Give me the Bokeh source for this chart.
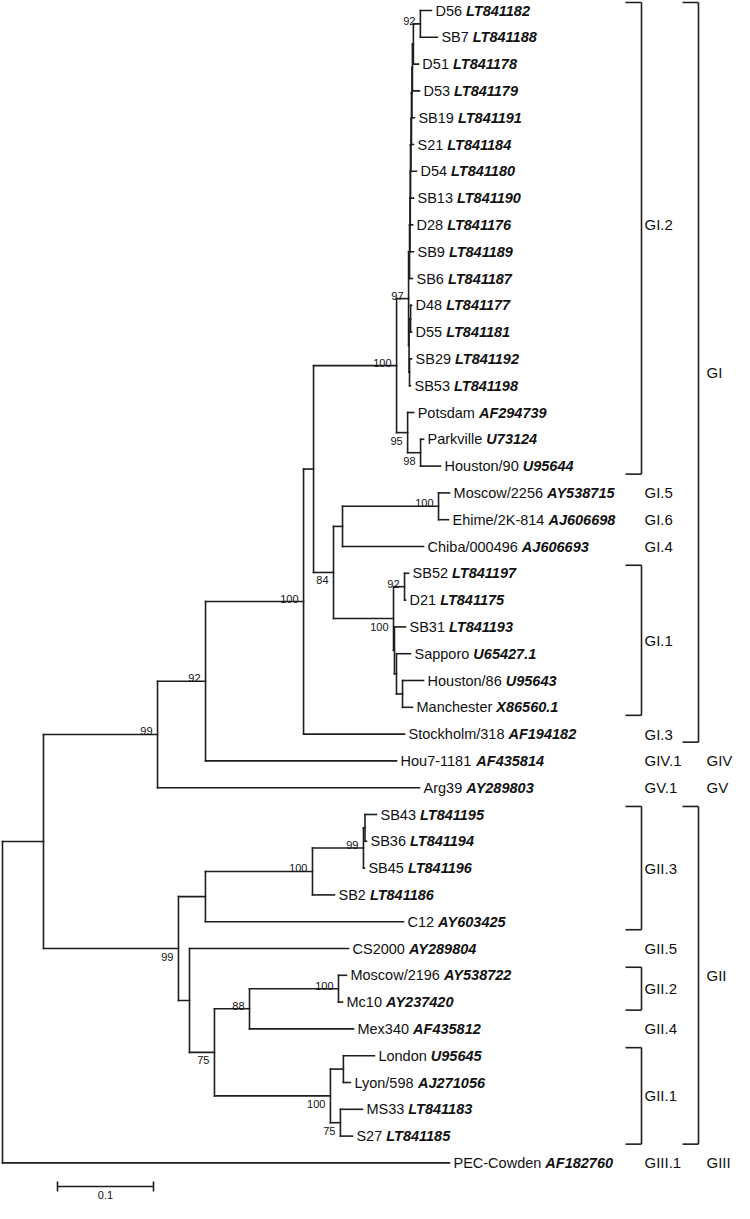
from bokeh.plotting import figure
from bokeh.models import Range1d, ColumnDataSource
from bokeh.embed import file_html
from bokeh.resources import INLINE
from bokeh.core.properties import value

# ---------------- data: tips (top to bottom) ----------------
tip_names = ["D56", "SB7", "D51", "D53", "SB19", "S21", "D54", "SB13", "D28", "SB9", "SB6",
             "D48", "D55", "SB29", "SB53", "Potsdam", "Parkville", "Houston/90",
             "Moscow/2256", "Ehime/2K-814", "Chiba/000496", "SB52", "D21", "SB31", "Sapporo",
             "Houston/86", "Manchester", "Stockholm/318", "Hou7-1181", "Arg39", "SB43", "SB36",
             "SB45", "SB2", "C12", "CS2000", "Moscow/2196", "Mc10", "Mex340", "London",
             "Lyon/598", "MS33", "S27", "PEC-Cowden"]
tip_acc = ["LT841182", "LT841188", "LT841178", "LT841179", "LT841191", "LT841184", "LT841180",
           "LT841190", "LT841176", "LT841189", "LT841187", "LT841177", "LT841181", "LT841192",
           "LT841198", "AF294739", "U73124", "U95644", "AY538715", "AJ606698", "AJ606693",
           "LT841197", "LT841175", "LT841193", "U65427.1", "U95643", "X86560.1", "AF194182",
           "AF435814", "AY289803", "LT841195", "LT841194", "LT841196", "LT841186", "AY603425",
           "AY289804", "AY538722", "AY237420", "AF435812", "U95645", "AJ271056", "LT841183",
           "LT841185", "AF182760"]
tip_parent = ["N92", "N92", "T1", "T2", "T3", "T4", "T5", "T6", "T7", "T8", "T9",
              "B1", "B1", "B2", "B2", "N95", "N98", "N98", "N438", "N438", "N342",
              "N404", "N404", "Nx", "Ny", "Nhm", "Nhm", "D", "C", "B", "Nsb43", "Nsb43",
              "N99g", "N100g", "GII3", "N189", "N100c", "N100c", "N88", "NLL", "NLL",
              "N75b", "N75b", "R"]
tip_len = [0.0115, 0.0177, 0.0052, 0.0073, 0.0026, 0.0021, 0.0057, 0.0031, 0.0023, 0.0036,
           0.0031, 0.0010, 0.0010, 0.0021, 0.0010, 0.0063, 0.0031, 0.0208, 0.0115, 0.0104,
           0.0844, 0.0042, 0.0010, 0.0115, 0.0146, 0.0219, 0.0104, 0.1052, 0.1990, 0.2729,
           0.0120, 0.0016, 0.0010, 0.0229, 0.2063, 0.1656, 0.0083, 0.0042, 0.1083, 0.0323,
           0.0073, 0.0229, 0.0125, 0.4656]

# ---------------- data: internal nodes ----------------
node_ids = ["A", "B", "C", "D", "E", "GI2", "N97", "T9", "T8", "T7", "T6", "T5", "T4", "T3",
            "T2", "T1", "N92", "Nbot", "B1", "B2", "N95", "N98", "N84", "N342", "N438", "GI1",
            "N404", "Nx", "Ny", "Nhm", "GII", "GII3", "N100g", "N99g", "Nsb43", "N189", "N75",
            "N88", "N100c", "N100b", "NLL", "N75b"]
node_parent = ["R", "A", "B", "C", "D", "E", "GI2", "N97", "T9", "T8", "T7", "T6", "T5", "T4",
               "T3", "T2", "T1", "N97", "Nbot", "Nbot", "GI2", "N95", "E", "N84", "N342", "N84",
               "GI1", "GI1", "Nx", "Ny", "A", "GII", "GII3", "N100g", "N99g", "GII", "N189",
               "N75", "N88", "N75", "N100b", "N100b"]
node_len = [0.0427, 0.1188, 0.0500, 0.1021, 0.0104, 0.0865, 0.0125, 0.0010, 0.0005, 0.0003,
            0.0002, 0.0005, 0.0005, 0.0005, 0.0005, 0.0010, 0.0073, 0.0005, 0.0016, 0.0005,
            0.0115, 0.0135, 0.0208, 0.0094, 0.1000, 0.0625, 0.0115, 0.0010, 0.0021, 0.0063,
            0.1406, 0.0281, 0.1115, 0.0531, 0.0016, 0.0115, 0.0260, 0.0365, 0.0927, 0.1208,
            0.0135, 0.0104]
node_support = [None, 99, 92, 100, None, 100, 97, None, None, None, None, None, None, None,
                None, None, 92, None, None, None, 95, 98, 84, None, 100, 100, 92, None, None,
                None, 99, None, 100, 99, None, None, 75, 88, 100, 100, None, 75]

# ---------------- data: genogroup annotations ----------------
sub_labels = ["GI.2", "GI.5", "GI.6", "GI.4", "GI.1", "GI.3", "GIV.1", "GV.1", "GII.3",
              "GII.5", "GII.2", "GII.4", "GII.1", "GIII.1"]
sub_first = [0, 18, 19, 20, 21, 27, 28, 29, 30, 35, 36, 38, 39, 43]
sub_last = [17, 18, 19, 20, 26, 27, 28, 29, 34, 35, 37, 38, 42, 43]
main_labels = ["GI", "GIV", "GV", "GII", "GIII"]
main_first = [0, 28, 29, 30, 43]
main_last = [27, 28, 29, 42, 43]
scale_len = 0.1
scale_label = "0.1"

# ---------------- layout ----------------
PPU = 960.0          # pixels per substitution unit (0.1 = 96 px)
ROW = 26.8           # pixels per leaf row
FW, FH = 734, 1203
X0 = -2.0 / PPU
Y_TOP = -10.0 / ROW


def px_to_x(px):
    return (px - 2.0) / PPU


def py_to_row(py):
    return (py - 10.0) / ROW


parent = {}
blen = {}
for n, p_, l in zip(node_ids, node_parent, node_len):
    parent[n] = p_
    blen[n] = l
tip_keys = ["tip%d" % i for i in range(len(tip_names))]
for k, p_, l in zip(tip_keys, tip_parent, tip_len):
    parent[k] = p_
    blen[k] = l

children = {}
for k, p_ in parent.items():
    children.setdefault(p_, []).append(k)

depth = {"R": 0.0}


def get_depth(n):
    if n not in depth:
        depth[n] = get_depth(parent[n]) + blen[n]
    return depth[n]


for k in parent:
    get_depth(k)

ypos = {k: float(i) for i, k in enumerate(tip_keys)}


def get_y(n):
    if n not in ypos:
        cy = [get_y(c) for c in children[n]]
        ypos[n] = (min(cy) + max(cy)) / 2.0
    return ypos[n]


get_y("R")

hx0, hx1, hy = [], [], []
for k in parent:
    hx0.append(depth[parent[k]])
    hx1.append(depth[k])
    hy.append(ypos[k])
vx, vy0, vy1 = [], [], []
for n, ch in children.items():
    cy = [ypos[c] for c in ch]
    vx.append(depth[n])
    vy0.append(min(cy))
    vy1.append(max(cy))

p = figure(width=FW, height=FH, output_backend="svg", toolbar_location=None,
           x_range=Range1d(X0, X0 + FW / PPU), y_range=Range1d(Y_TOP + FH / ROW, Y_TOP),
           x_axis_type=None, y_axis_type=None, min_border=0)
p.grid.visible = False
p.outline_line_color = None
p.background_fill_color = "white"
p.border_fill_color = "white"

LC = "#1e1e1e"
LW = 1.6
TC = "#111111"
FONT = value("Liberation Sans")
p.segment(x0=hx0, y0=hy, x1=hx1, y1=hy, line_color=LC, line_width=LW, line_cap="square")
p.segment(x0=vx, y0=vy0, x1=vx, y1=vy1, line_color=LC, line_width=LW, line_cap="square")

# tip labels
FS = 14.5
WID = {' ': 278, '-': 333, '.': 278, '/': 278, 'A': 667, 'B': 667, 'C': 722, 'D': 722,
       'E': 667, 'F': 611, 'G': 778, 'H': 722, 'I': 278, 'J': 500, 'K': 667, 'L': 556,
       'M': 833, 'N': 722, 'O': 778, 'P': 667, 'R': 722, 'S': 667, 'T': 611, 'U': 722,
       'V': 667, 'W': 944, 'X': 667, 'Y': 667, 'a': 556, 'b': 556, 'c': 500, 'd': 556,
       'e': 556, 'f': 278, 'g': 556, 'h': 556, 'i': 222, 'k': 500, 'l': 222, 'm': 833,
       'n': 556, 'o': 556, 'p': 556, 'r': 333, 's': 500, 't': 278, 'u': 556, 'v': 500,
       'w': 722, 'x': 500, 'y': 500}


def text_px(s, fs):
    return sum(WID.get(c, 556) for c in s) / 1000.0 * fs


tx = [depth[k] for k in tip_keys]
ty = [ypos[k] for k in tip_keys]
acc_off = [4 + text_px(n + " ", FS) for n in tip_names]
src_tips = ColumnDataSource(dict(x=tx, y=ty, name=tip_names, acc=tip_acc, off=acc_off))
p.text(x="x", y="y", text="name", source=src_tips, x_offset=4, text_align="left",
       text_baseline="middle", text_font=FONT,
       text_font_size=value("%.1fpx" % FS), text_color=TC)
p.text(x="x", y="y", text="acc", source=src_tips, x_offset="off", text_align="left",
       text_baseline="middle", text_font=FONT,
       text_font_size=value("%.1fpx" % FS), text_font_style="bold italic",
       text_color=TC)

# bootstrap values
ax_, ay_, at_, bx_, by_, bt_ = [], [], [], [], [], []
for n, s in zip(node_ids, node_support):
    if s is None:
        continue
    if ypos[n] <= ypos[parent[n]]:
        ax_.append(depth[n]); ay_.append(ypos[n]); at_.append(str(s))
    else:
        bx_.append(depth[n]); by_.append(ypos[n]); bt_.append(str(s))
p.text(x=ax_, y=ay_, text=at_, x_offset=-5, y_offset=-3, text_align="right",
       text_baseline="alphabetic", text_font=FONT,
       text_font_size=value("11px"), text_color=TC)
p.text(x=bx_, y=by_, text=bt_, x_offset=-5, y_offset=4, text_align="right",
       text_baseline="top", text_font=FONT,
       text_font_size=value("11px"), text_color=TC)

# genogroup brackets
TICK = 16


def brackets(labels, first, last, vx_px, lab_px, font_size, label_rows=None):
    bx0, by0, bx1, by1 = [], [], [], []
    lx, ly, lt = [], [], []
    xv = px_to_x(vx_px)
    xt = px_to_x(vx_px - TICK)
    for i, (lab, f, l) in enumerate(zip(labels, first, last)):
        if l > f:
            top = f - 0.3
            bot = l + 0.3
            bx0 += [xv, xt, xt]
            bx1 += [xv, xv, xv]
            by0 += [top, top, bot]
            by1 += [bot, top, bot]
        lx.append(px_to_x(lab_px))
        if label_rows is not None and label_rows[i] is not None:
            ly.append(label_rows[i])
        else:
            ly.append((f + l) / 2.0)
        lt.append(lab)
    p.segment(x0=bx0, y0=by0, x1=bx1, y1=by1, line_color=LC, line_width=LW)
    p.text(x=lx, y=ly, text=lt, text_align="left", text_baseline="middle",
           text_font=FONT, text_font_size=value(font_size), text_color=TC)


sub_rows = [8.0] + [None] * (len(sub_labels) - 1)
brackets(sub_labels, sub_first, sub_last, 641, 644, "15px", sub_rows)
brackets(main_labels, main_first, main_last, 698, 706, "15px")

# scale bar
sb_x0 = px_to_x(57)
sb_row = py_to_row(1186)
dr = 5.0 / ROW
p.segment(x0=[sb_x0, sb_x0, sb_x0 + scale_len], y0=[sb_row, sb_row - dr, sb_row - dr],
          x1=[sb_x0 + scale_len, sb_x0, sb_x0 + scale_len], y1=[sb_row, sb_row + dr, sb_row + dr],
          line_color=LC, line_width=LW)
p.text(x=[sb_x0 + scale_len / 2], y=[sb_row], text=[scale_label], y_offset=4,
       text_align="center", text_baseline="top", text_font=FONT,
       text_font_size=value("11px"), text_color=TC)

open("out.html", "w").write(file_html(p, INLINE))
